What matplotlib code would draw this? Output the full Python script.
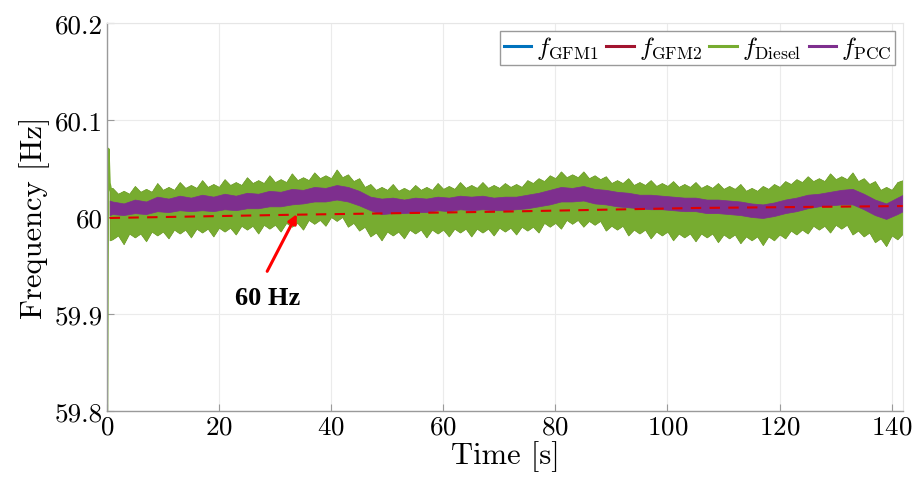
import numpy as np
import matplotlib
matplotlib.use('Agg')
import matplotlib.pyplot as plt
from matplotlib.lines import Line2D

# diesel/GFM band envelope (Hz) at t = 0.5, 1, 2, ..., 142 s
diesel_t = [0.5] + list(range(1, 143))
diesel_hi = [60.030,
    60.030, 60.024, 60.027, 60.024, 60.032, 60.026, 60.029, 60.026, 60.035, 60.028,
    60.031, 60.028, 60.036, 60.030, 60.033, 60.030, 60.038, 60.031, 60.034, 60.031,
    60.039, 60.033, 60.036, 60.033, 60.041, 60.035, 60.038, 60.035, 60.043, 60.036,
    60.039, 60.036, 60.045, 60.038, 60.041, 60.038, 60.046, 60.040, 60.043, 60.040,
    60.049, 60.041, 60.044, 60.037, 60.040, 60.031, 60.034, 60.028, 60.031, 60.028,
    60.034, 60.027, 60.030, 60.027, 60.033, 60.028, 60.031, 60.028, 60.035, 60.029,
    60.032, 60.029, 60.036, 60.030, 60.033, 60.030, 60.036, 60.030, 60.033, 60.030,
    60.035, 60.031, 60.034, 60.031, 60.038, 60.035, 60.040, 60.037, 60.043, 60.040,
    60.047, 60.041, 60.044, 60.041, 60.047, 60.040, 60.043, 60.039, 60.042, 60.035,
    60.038, 60.035, 60.040, 60.033, 60.036, 60.033, 60.038, 60.032, 60.035, 60.032,
    60.037, 60.031, 60.034, 60.031, 60.036, 60.030, 60.033, 60.030, 60.035, 60.029,
    60.032, 60.029, 60.034, 60.027, 60.030, 60.027, 60.032, 60.029, 60.034, 60.031,
    60.037, 60.034, 60.039, 60.036, 60.042, 60.037, 60.040, 60.037, 60.045, 60.039,
    60.042, 60.039, 60.046, 60.037, 60.040, 60.034, 60.037, 60.028, 60.031, 60.028,
    60.036, 60.038]
diesel_lo = [59.976,
    59.977, 59.981, 59.972, 59.983, 59.979, 59.983, 59.975, 59.985, 59.981, 59.985,
    59.978, 59.987, 59.983, 59.987, 59.979, 59.988, 59.984, 59.988, 59.980, 59.989,
    59.985, 59.989, 59.982, 59.991, 59.987, 59.991, 59.983, 59.992, 59.988, 59.992,
    59.985, 59.994, 59.990, 59.994, 59.987, 59.997, 59.993, 59.997, 59.991, 60.000,
    59.996, 60.000, 59.990, 59.994, 59.986, 59.990, 59.980, 59.984, 59.976, 59.985,
    59.981, 59.985, 59.978, 59.987, 59.983, 59.987, 59.979, 59.987, 59.983, 59.987,
    59.980, 59.988, 59.984, 59.988, 59.980, 59.988, 59.984, 59.988, 59.981, 59.989,
    59.985, 59.989, 59.982, 59.990, 59.986, 59.990, 59.984, 59.994, 59.990, 59.994,
    59.988, 59.997, 59.993, 59.997, 59.990, 59.996, 59.992, 59.996, 59.986, 59.991,
    59.987, 59.991, 59.981, 59.987, 59.983, 59.987, 59.978, 59.985, 59.981, 59.985,
    59.976, 59.983, 59.979, 59.983, 59.975, 59.983, 59.979, 59.983, 59.974, 59.982,
    59.978, 59.982, 59.973, 59.980, 59.976, 59.980, 59.971, 59.980, 59.976, 59.982,
    59.978, 59.986, 59.982, 59.987, 59.983, 59.991, 59.987, 59.991, 59.984, 59.992,
    59.988, 59.992, 59.982, 59.986, 59.980, 59.984, 59.974, 59.978, 59.970, 59.981,
    59.977, 59.983]

# PCC band envelope at t = 0.5, 1, 3, 5, ..., 141, 142 s
pcc_t = [0.5] + list(range(1, 142, 2)) + [142]
pcc_hi = [60.017,
    60.016, 60.014, 60.018, 60.016, 60.021, 60.019, 60.022, 60.020, 60.023, 60.021,
    60.024, 60.022, 60.025, 60.024, 60.027, 60.026, 60.029, 60.028, 60.031, 60.030,
    60.033, 60.031, 60.027, 60.021, 60.019, 60.020, 60.018, 60.020, 60.019, 60.021,
    60.020, 60.022, 60.021, 60.022, 60.020, 60.021, 60.021, 60.023, 60.025, 60.028,
    60.031, 60.030, 60.032, 60.029, 60.028, 60.026, 60.025, 60.023, 60.023, 60.022,
    60.021, 60.020, 60.020, 60.018, 60.018, 60.017, 60.016, 60.014, 60.013, 60.015,
    60.018, 60.020, 60.023, 60.024, 60.026, 60.028, 60.029, 60.024, 60.018, 60.014,
    60.020, 60.023]
pcc_lo = [60.002,
    60.003, 60.002, 60.004, 60.003, 60.006, 60.005, 60.007, 60.006, 60.007, 60.006,
    60.008, 60.007, 60.009, 60.009, 60.011, 60.011, 60.013, 60.014, 60.016, 60.016,
    60.018, 60.016, 60.012, 60.007, 60.003, 60.004, 60.004, 60.005, 60.005, 60.007,
    60.006, 60.008, 60.007, 60.008, 60.007, 60.007, 60.008, 60.009, 60.011, 60.013,
    60.016, 60.016, 60.017, 60.014, 60.013, 60.011, 60.010, 60.009, 60.008, 60.008,
    60.007, 60.006, 60.006, 60.004, 60.004, 60.003, 60.002, 60.000, 59.999, 60.001,
    60.004, 60.006, 60.009, 60.011, 60.012, 60.013, 60.013, 60.008, 60.002, 59.998,
    60.003, 60.006]

# start-up transient of the diesel frequency
spike_t = [0.0, 0.1, 0.25, 0.45, 0.7]
spike_f = [59.80, 59.95, 60.07, 60.035, 60.028]

# dashed 60 Hz reference as drawn
ref_t = [0.5, 34, 70, 105, 142]
ref_f = [59.999, 60.0024, 60.0055, 60.0093, 60.0113]

plt.rcParams['font.family'] = 'serif'
plt.rcParams['font.serif'] = ['cmr10']
plt.rcParams['mathtext.fontset'] = 'cm'
plt.rcParams['axes.formatter.use_mathtext'] = True

c_gfm1 = '#0072BD'
c_gfm2 = '#A2142F'
c_dsl = '#77AC30'
c_pcc = '#7E2F8E'

fig = plt.figure(figsize=(9.13, 4.85), dpi=100)
ax = fig.add_axes([0.117, 0.1505, 0.872, 0.80])

ax.fill_between(diesel_t, diesel_lo, diesel_hi, color=c_gfm1, lw=0)
ax.fill_between(diesel_t, diesel_lo, diesel_hi, color=c_gfm2, lw=0)
ax.plot(spike_t, spike_f, color=c_dsl, lw=2)
ax.fill_between(diesel_t, diesel_lo, diesel_hi, color=c_dsl, lw=0.6)
ax.fill_between(pcc_t, pcc_lo, pcc_hi, color=c_pcc, lw=0.5)
ax.plot(ref_t, ref_f, color='#E00000', lw=1.5, ls=(0, (5, 4)))

# arrow and label for the 60 Hz line
ax.annotate('', xy=(33.9, 60.003), xytext=(28.6, 59.944),
            arrowprops=dict(arrowstyle='-|>', color='red', lw=2.2,
                            mutation_scale=13, shrinkA=0, shrinkB=0))
ax.text(28.6, 59.9175, '60 Hz', ha='center', va='center', fontsize=19,
        fontweight='bold', family='Liberation Serif')

ax.set_xlim(0, 142)
ax.set_ylim(59.8, 60.2)
ax.set_xticks(np.arange(0, 141, 20))
ax.set_yticks([59.8, 59.9, 60.0, 60.1, 60.2])
ax.set_yticklabels(['59.8', '59.9', '60', '60.1', '60.2'])
ax.tick_params(direction='in', labelsize=19.5, length=5, color='#9a9a9a', pad=3)
ax.grid(True, color='#ebebeb', lw=0.8)
ax.set_axisbelow(True)
for side in ('left', 'bottom'):
    ax.spines[side].set_color('#9a9a9a')
    ax.spines[side].set_linewidth(1.0)
for side in ('top', 'right'):
    ax.spines[side].set_color('#e6e6e6')
    ax.spines[side].set_linewidth(0.8)

ax.set_xlabel('Time [s]', fontsize=22, labelpad=1)
ax.set_ylabel('Frequency [Hz]', fontsize=22, labelpad=3)

handles = [Line2D([], [], color=c, lw=2.2) for c in (c_gfm1, c_gfm2, c_dsl, c_pcc)]
labels = [r'$f_{\mathrm{GFM1}}$', r'$f_{\mathrm{GFM2}}$',
          r'$f_{\mathrm{Diesel}}$', r'$f_{\mathrm{PCC}}$']
ax.legend(handles, labels, loc='upper right', ncol=4, fontsize=18,
          handlelength=1.1, handletextpad=0.2, columnspacing=0.3,
          borderpad=0.15, borderaxespad=0.3, fancybox=False,
          edgecolor='#9a9a9a', framealpha=1)

fig.savefig('out.png', dpi=100)
